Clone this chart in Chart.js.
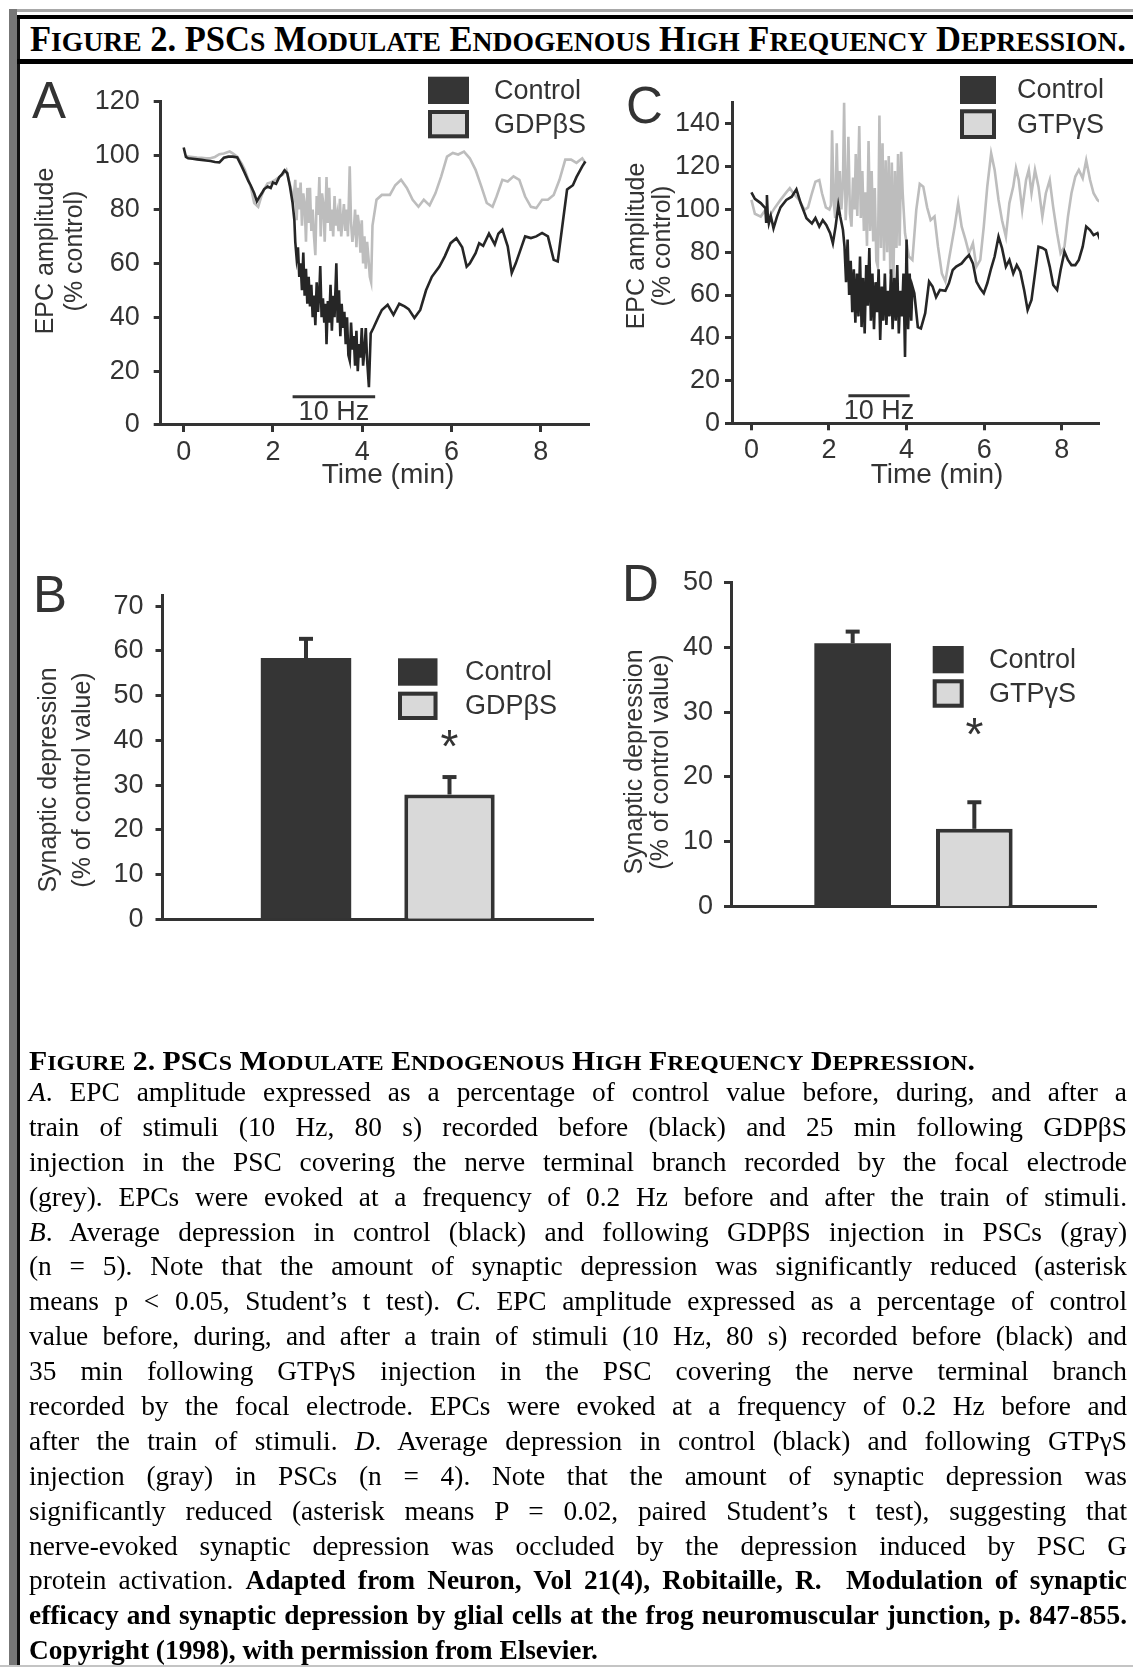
<!DOCTYPE html>
<html>
<head>
<meta charset="utf-8">
<script src="https://cdn.jsdelivr.net/npm/chart.js@4.4.1/dist/chart.umd.min.js"></script>
<style>
html,body{margin:0;padding:0;background:#fff;}
body{width:1133px;height:1667px;position:relative;overflow:hidden;}
canvas.full{position:absolute;left:0;top:0;}
.bar{position:absolute;}
.ttl{position:absolute;white-space:nowrap;display:inline-block;transform-origin:0 0;
  font-family:'Liberation Serif','Times New Roman',serif;font-weight:bold;color:#000;}
.cap{position:absolute;left:29px;top:1075px;width:1098px;
  font-family:'Liberation Serif','Times New Roman',serif;font-size:26px;line-height:34.9px;color:#000;}
.cl{height:34.9px;white-space:nowrap;}
.cl span{white-space:nowrap;}
</style>
</head>
<body>
<!-- page frame -->
<div class="bar" style="left:9px;top:9px;width:1124px;height:3px;background:#a8a8a8;"></div>
<div class="bar" style="left:9px;top:9px;width:8px;height:1658px;background:#777;"></div>
<div class="bar" style="left:17px;top:15px;width:2.5px;height:1652px;background:#111;"></div>
<div class="bar" style="left:17px;top:15px;width:1116px;height:3.5px;background:#000;"></div>
<div class="bar" style="left:17px;top:59px;width:1116px;height:5px;background:#000;"></div>
<div class="bar" style="left:0;top:1665px;width:1133px;height:2px;background:#c4c4c4;"></div>

<div id="topTitle" class="ttl" style="left:30px;top:20px;font-size:35px;line-height:40px;">Figure 2. PSCs Modulate Endogenous High Frequency Depression.</div>

<canvas id="cA" class="full" width="1133" height="1667"></canvas>
<canvas id="cC" class="full" width="1133" height="1667"></canvas>
<canvas id="cB" class="full" width="1133" height="1667"></canvas>
<canvas id="cD" class="full" width="1133" height="1667"></canvas>

<div id="capTitle" class="ttl" style="left:29px;top:1046px;font-size:27px;line-height:30px;">Figure 2. PSCs Modulate Endogenous High Frequency Depression.</div>
<div class="cap" id="cap">
<div class="cl j"><span><i>A</i>. EPC amplitude expressed as a percentage of control value before, during, and after a</span></div>
<div class="cl j"><span>train of stimuli (10 Hz, 80 s) recorded before (black) and 25 min following GDPβS</span></div>
<div class="cl j"><span>injection in the PSC covering the nerve terminal branch recorded by the focal electrode</span></div>
<div class="cl j"><span>(grey). EPCs were evoked at a frequency of 0.2 Hz before and after the train of stimuli.</span></div>
<div class="cl j"><span><i>B</i>. Average depression in control (black) and following GDPβS injection in PSCs (gray)</span></div>
<div class="cl j"><span>(n = 5). Note that the amount of synaptic depression was significantly reduced (asterisk</span></div>
<div class="cl j"><span>means p &lt; 0.05, Student’s t test). <i>C</i>. EPC amplitude expressed as a percentage of control</span></div>
<div class="cl j"><span>value before, during, and after a train of stimuli (10 Hz, 80 s) recorded before (black) and</span></div>
<div class="cl j"><span>35 min following GTPγS injection in the PSC covering the nerve terminal branch</span></div>
<div class="cl j"><span>recorded by the focal electrode. EPCs were evoked at a frequency of 0.2 Hz before and</span></div>
<div class="cl j"><span>after the train of stimuli. <i>D</i>. Average depression in control (black) and following GTPγS</span></div>
<div class="cl j"><span>injection (gray) in PSCs (n = 4). Note that the amount of synaptic depression was</span></div>
<div class="cl j"><span>significantly reduced (asterisk means P = 0.02, paired Student’s t test), suggesting that</span></div>
<div class="cl j"><span>nerve-evoked synaptic depression was occluded by the depression induced by PSC G</span></div>
<div class="cl j"><span>protein activation. <b>Adapted from Neuron, Vol 21(4), Robitaille, R.&nbsp; Modulation of synaptic</b></span></div>
<div class="cl j"><span><b>efficacy and synaptic depression by glial cells at the frog neuromuscular junction, p. 847-855.</b></span></div>
<div class="cl"><span><b>Copyright (1998), with permission from Elsevier.</b></span></div>
</div>

<script>
// ---------------- DATA ----------------
const timeTicks = [0, 2, 4, 6, 8];
const epcTicksA = [0, 20, 40, 60, 80, 100, 120];
const epcTicksC = [0, 20, 40, 60, 80, 100, 120, 140];
const depTicksB = [0, 10, 20, 30, 40, 50, 60, 70];
const depTicksD = [0, 10, 20, 30, 40, 50];

const seriesA = ['Control', 'GDPβS'];
const seriesC = ['Control', 'GTPγS'];
const stimLabel = '10 Hz';
const stimA = [2.44, 4.29];
const stimC = [2.5, 4.08];

// Panel A, Control (black)
const aCtrlTime = [0,0.05,0.1,0.2,0.3,0.4,0.5,0.6,0.7,0.8,0.9,1.0,1.1,1.2,1.3,1.37,1.45,1.5,1.58,1.64,1.69,1.75,1.8,1.88,1.95,2.0,2.07,2.14,2.2,2.26,2.32,2.38,2.44,
 2.48,2.5,2.53,2.56,2.59,2.62,2.65,2.68,2.71,2.74,2.77,2.8,2.83,2.86,2.89,2.92,2.95,2.98,3.01,3.04,3.06,3.09,3.12,3.15,3.18,3.2,3.23,3.26,3.29,3.32,3.35,3.38,3.42,3.45,3.48,3.51,3.54,3.57,3.6,3.63,3.66,3.69,3.72,3.75,3.78,3.81,3.84,3.87,3.9,3.93,3.96,3.99,4.02,4.05,4.08,4.11,4.15,4.19,
 4.25,4.36,4.44,4.57,4.7,4.83,4.95,5.04,5.17,5.3,5.43,5.56,5.73,5.85,5.98,6.11,6.24,6.34,6.41,6.54,6.62,6.71,6.84,6.97,7.05,7.14,7.26,7.35,7.44,7.52,7.65,7.78,7.9,8.03,8.16,8.29,8.38,8.5,8.59,8.72,8.8,8.93,9.0];
const aCtrlEpc = [103,99.5,99,98.8,98.6,98.4,98.2,98,97.6,97.5,99.2,99.6,99.6,99.3,96,93.5,90.5,89,86,83,84.5,86,87.5,88.5,88,90,89.5,92,93,94.5,93.5,88.6,82.4,
 76,68,62,66,55,60,50,64,48,58,45,55,44,52,40,48,37,53,42,50,59,40,47,38,45,30,46,38,52,35,48,40,60,38,50,33,45,36,42,30,40,26,24,38,28,33,22,35,20,30,25,36,22,28,36,24,14,34,
 36,40,42.7,44.6,40.9,45,44,43,39.7,42.7,50,55,58.8,62.6,67.5,69.3,66,58.8,60,63.8,67.5,66.5,71,67,71,72.5,66.3,56.4,60,63.8,70,69.4,70,71.3,70,61.3,60.7,76,87.4,89,92,96,97.8];

// Panel A, GDPbetaS (grey)
const aGdpTime = [0.05,0.1,0.2,0.3,0.4,0.5,0.6,0.7,0.8,0.9,1.03,1.1,1.2,1.3,1.37,1.45,1.5,1.58,1.67,1.75,1.82,1.88,1.95,2.05,2.14,2.22,2.3,2.39,2.46,
 2.5,2.53,2.56,2.59,2.62,2.65,2.68,2.71,2.74,2.77,2.8,2.83,2.86,2.89,2.92,2.95,2.98,3.01,3.04,3.07,3.1,3.13,3.16,3.2,3.23,3.26,3.29,3.32,3.35,3.38,3.41,3.44,3.47,3.5,3.53,3.56,3.59,3.62,3.65,3.68,3.72,3.75,3.78,3.81,3.84,3.87,3.9,3.93,3.96,3.99,4.02,4.05,4.08,4.11,4.14,4.17,4.2,
 4.23,4.32,4.44,4.62,4.74,4.87,5.0,5.13,5.26,5.38,5.51,5.64,5.77,5.9,6.03,6.15,6.28,6.41,6.54,6.67,6.79,6.92,7.01,7.14,7.26,7.39,7.52,7.65,7.78,7.9,8.03,8.16,8.29,8.42,8.55,8.68,8.8,8.93,9.0];
const aGdpEpc = [100,99.6,99.5,99.3,99.2,99,99,99.5,100.5,100.8,101.5,100.8,99.6,97,94.7,91,88.5,82.4,81,85.4,88,89.7,90,91,92,93,94.7,88.6,83.6,
 91,76,88,80,90,74,86,82,68,88,75,88,72,80,70,63,85,78,92,70,86,82,68,92,75,88,72,80,70,85,74,78,72,84,70,76,82,72,80,70,96,75,68,72,80,66,78,74,64,76,60,70,58,68,62,55,53,
 74,83.6,85.4,85.4,89,91,88,83.6,81,83.6,81.5,86,92.3,99.6,101,100.4,101.5,99,94.7,88.5,82.4,81,84.8,91,90.4,92.3,91,84.8,81,80.5,83.6,83.6,85.4,91,98.5,98.5,97.3,99,97.3];

// Panel C, Control (black)
const cCtrlTime = [0,0.09,0.24,0.36,0.38,0.4,0.42,0.45,0.5,0.57,0.66,0.75,0.9,1.04,1.16,1.27,1.42,1.56,1.65,1.75,1.84,1.93,2.03,2.1,2.17,2.24,2.29,2.36,2.4,
 2.44,2.48,2.52,2.56,2.6,2.64,2.68,2.72,2.76,2.8,2.84,2.88,2.92,2.96,3.0,3.04,3.08,3.12,3.16,3.2,3.24,3.28,3.32,3.36,3.4,3.44,3.48,3.52,3.56,3.6,3.64,3.68,3.72,3.76,3.8,3.84,3.88,3.92,3.96,4.0,4.04,4.08,4.12,4.15,
 4.2,4.29,4.37,4.48,4.58,4.67,4.76,4.86,5.0,5.09,5.19,5.28,5.42,5.52,5.61,5.71,5.8,5.9,5.99,6.08,6.18,6.27,6.37,6.46,6.56,6.65,6.75,6.84,6.93,7.03,7.12,7.22,7.31,7.4,7.5,7.59,7.69,7.78,7.88,7.97,8.07,8.16,8.25,8.35,8.44,8.54,8.63,8.73,8.82,8.92,8.99];
const cCtrlEpc = [108,105,103,100.6,94.3,106.8,98,93.5,97,91.2,96.7,101,104.5,106,109.4,103,95.9,93.5,96,92,95,92.8,88.9,84.2,92,102,96.7,90.4,82.6,
 66,86,60,76,52,72,47,70,50,78,45,68,42,74,55,82,48,70,44,66,52,72,39,64,48,70,46,62,50,72,44,68,48,74,42,62,50,70,31,86,44,70,48,64,
 60.8,45,44.4,51.5,66.3,64,59,62.4,62,65.5,71.7,73.3,74.8,77,78.7,74.8,66.3,63,60.8,65.5,72.5,78,87.3,81.9,73.3,76.4,70,74,71,62.4,53,57.7,70,82.6,82,81,73.3,64.7,62.4,71.7,80.3,76.4,74,74,76.4,82.6,92,90.4,88,89,85.8];

// Panel C, GTPgammaS (grey)
const cGtpTime = [0,0.09,0.24,0.33,0.47,0.61,0.75,0.9,0.99,1.08,1.23,1.37,1.46,1.56,1.65,1.75,1.82,1.92,2.01,
 2.05,2.08,2.12,2.16,2.2,2.24,2.28,2.32,2.36,2.39,2.43,2.47,2.5,2.54,2.58,2.62,2.66,2.69,2.73,2.78,2.82,2.86,2.9,2.94,2.98,3.02,3.06,3.1,3.14,3.18,3.22,3.26,3.3,3.34,3.38,3.42,3.46,3.5,3.54,3.58,3.62,3.66,3.7,3.74,3.78,3.82,3.86,
 3.9,3.96,4.06,4.15,4.25,4.34,4.43,4.53,4.62,4.72,4.81,4.91,5.0,5.09,5.24,5.33,5.42,5.52,5.61,5.71,5.8,5.9,5.99,6.08,6.18,6.27,6.37,6.46,6.56,6.65,6.75,6.82,6.89,6.98,7.08,7.15,7.22,7.31,7.4,7.5,7.59,7.69,7.78,7.88,7.97,8.07,8.16,8.25,8.35,8.44,8.54,8.63,8.73,8.82,8.92,8.97];
const cGtpEpc = [104.5,98,96.7,99,97,101,104.5,108,110,107.6,104.5,99.8,101,107.6,113,113.8,107.6,101,100,
 102,137,104,96,131,100,118,100,112,150,95,110,134,98,92,115,100,126,97,139,96,118,90,108,83,132,90,118,85,110,76,73,144,82,131,76,123,80,125,70,122,65,118,82,126,83,127,
 107.6,88.9,78,76.4,99.8,112,110.7,101,95,96.7,82.6,70,66.3,76.4,92,103,92,85.8,79.5,84.2,73.3,76.4,92,110.7,126.3,118.5,104.5,95,87.3,103,110.7,119.3,113.8,99.8,113.8,118.5,107.6,118.5,110.7,96.7,107.6,113.8,101,88.9,79.5,82.6,96.7,107.6,115.4,118.5,114.6,123,113.8,107.6,104.5,103.7];

// Panel B
const barCatsB = ['Control', 'GDPβS'];
const barMeansB = [58.4, 27.9];
const barErrB = [4.3, 3.9];
const starB = 40;
// Panel D
const barCatsD = ['Control', 'GTPγS'];
const barMeansD = [40.6, 12.0];
const barErrD = [1.8, 4.1];
const starD = 27.5;

// ---------------- STYLE / LAYOUT ----------------
const PAGE_W = 1133, PAGE_H = 1667;
const INK = '#333333';
const SANS = "'Liberation Sans', Arial, Helvetica, sans-serif";
const BLACK_TRACE = '#262626';
const GRAY_TRACE = '#bdbdbd';
const BAR_DARK = '#353535';
const BAR_LIGHT = '#d9d9d9';
const TICK_FONT = { family: SANS, size: 27 };

const panels = {
  A: { area: {left:160.7, top:101.7, right:589.4, bottom:425}, xRange:[-0.515, 9.09], yMax:120, tickPad:14,
       letter:{text:'A', x:32, y:118},
       yTitle:{lines:['EPC amplitude','(% control)'], xs:[46,75.5], cy:251},
       xTitle:{text:'Time (min)', cx:388, cy:475},
       legend:{x:428, w:41, rows:[[76.7,104],[110,138.3]], textX:494},
       stimY:10.5 },
  C: { area: {left:732, top:102.6, right:1099, bottom:423.3}, xRange:[-0.5, 8.96], yMax:150, tickPad:5,
       letter:{text:'C', x:626, y:122.5},
       yTitle:{lines:['EPC amplitude','(% control)'], xs:[637,663.5], cy:246},
       xTitle:{text:'Time (min)', cx:937, cy:475},
       legend:{x:960, w:36, rows:[[76,104],[109.3,139]], textX:1017},
       stimY:12.9 },
  B: { area: {left:162.5, top:595, right:593, bottom:919.3}, yMax:72.5, tickPad:12,
       letter:{text:'B', x:33, y:611.5},
       yTitle:{lines:['Synaptic depression','(% of control value)'], xs:[49,83], cy:780},
       legend:{x:398, w:39.5, rows:[[658.3,685.7],[691.7,720]], textX:465} },
  D: { area: {left:731, top:582.3, right:1096, bottom:906.7}, yMax:50, tickPad:11,
       letter:{text:'D', x:622, y:600.5},
       yTitle:{lines:['Synaptic depression','(% of control value)'], xs:[635,661], cy:762},
       legend:{x:932.7, w:31, rows:[[646,673.3],[679.3,707.7]], textX:989} }
};

const Y_W = 110;
function padFor(area, xH) {
  return { left: area.left - Y_W, top: area.top, right: PAGE_W - area.right, bottom: PAGE_H - area.bottom - xH };
}
function pts(t, y) { const n = Math.min(t.length, y.length); const o = []; for (let i = 0; i < n; i++) o.push({x: t[i], y: y[i]}); return o; }
function fixTicks(list) { return s => { s.ticks = list.map(v => ({ value: v })); }; }

function drawCommon(ctx, p, names) {
  ctx.save();
  ctx.fillStyle = INK;
  ctx.font = `51px ${SANS}`; ctx.textAlign = 'left'; ctx.textBaseline = 'alphabetic';
  ctx.fillText(p.letter.text, p.letter.x, p.letter.y);
  ctx.font = `25px ${SANS}`;
  p.yTitle.lines.forEach((ln, i) => {
    ctx.save(); ctx.translate(p.yTitle.xs[i], p.yTitle.cy); ctx.rotate(-Math.PI / 2);
    ctx.textAlign = 'center'; ctx.textBaseline = 'middle'; ctx.fillText(ln, 0, 0); ctx.restore();
  });
  if (p.xTitle) {
    ctx.font = `28px ${SANS}`; ctx.textAlign = 'center'; ctx.textBaseline = 'middle';
    ctx.fillText(p.xTitle.text, p.xTitle.cx, p.xTitle.cy);
  }
  const lg = p.legend;
  names.forEach((nm, i) => {
    const [t, b] = lg.rows[i];
    if (i === 0) { ctx.fillStyle = BAR_DARK; ctx.fillRect(lg.x, t, lg.w, b - t); }
    else {
      ctx.fillStyle = BAR_LIGHT; ctx.fillRect(lg.x, t, lg.w, b - t);
      ctx.strokeStyle = INK; ctx.lineWidth = 4; ctx.strokeRect(lg.x + 2, t + 2, lg.w - 4, b - t - 4);
    }
    ctx.fillStyle = INK; ctx.font = `27px ${SANS}`; ctx.textAlign = 'left'; ctx.textBaseline = 'middle';
    ctx.fillText(nm, lg.textX, (t + b) / 2 + 1);
  });
  ctx.restore();
}

function yAxis(p, yTicks) {
  return { type: 'linear', min: 0, max: p.yMax,
    afterBuildTicks: fixTicks(yTicks), afterFit: s => { s.width = Y_W; },
    grid: { display: true, drawOnChartArea: false, drawTicks: true, tickLength: 7, tickWidth: 3, tickColor: INK },
    border: { display: true, color: INK, width: 3 },
    ticks: { color: INK, font: TICK_FONT, padding: p.tickPad, autoSkip: false } };
}

function lineChart(id, p, names, blackT, blackY, grayT, grayY, yTicks, stim) {
  const plugin = {
    id: 'decor' + id,
    afterDraw(chart) {
      const ctx = chart.ctx, xs = chart.scales.x, ys = chart.scales.y;
      drawCommon(ctx, p, names);
      ctx.save();
      const y = ys.getPixelForValue(p.stimY);
      const x0 = xs.getPixelForValue(stim[0]), x1 = xs.getPixelForValue(stim[1]);
      ctx.strokeStyle = INK; ctx.lineWidth = 3;
      ctx.beginPath(); ctx.moveTo(x0, y); ctx.lineTo(x1, y); ctx.stroke();
      ctx.fillStyle = INK; ctx.font = `27px ${SANS}`; ctx.textAlign = 'center'; ctx.textBaseline = 'middle';
      ctx.fillText(stimLabel, (x0 + x1) / 2, y + 16);
      ctx.restore();
    }
  };
  return new Chart(document.getElementById(id), {
    type: 'line',
    data: { datasets: [
      { label: names[0], data: pts(blackT, blackY), borderColor: BLACK_TRACE, borderWidth: 2.6, pointRadius: 0, tension: 0, order: 0 },
      { label: names[1], data: pts(grayT, grayY), borderColor: GRAY_TRACE, borderWidth: 2.6, pointRadius: 0, tension: 0, order: 1 }
    ]},
    options: {
      responsive: false, animation: false, events: [],
      layout: { padding: padFor(p.area, 60) },
      plugins: { legend: { display: false }, tooltip: { enabled: false } },
      scales: {
        x: { type: 'linear', min: p.xRange[0], max: p.xRange[1],
             afterBuildTicks: fixTicks(timeTicks), afterFit: s => { s.height = 60; },
             grid: { display: true, drawOnChartArea: false, drawTicks: true, tickLength: 7, tickWidth: 3, tickColor: INK },
             border: { display: true, color: INK, width: 3 },
             ticks: { color: INK, font: TICK_FONT, padding: 4, maxRotation: 0, autoSkip: false } },
        y: yAxis(p, yTicks)
      }
    },
    plugins: [plugin]
  });
}

function barChart(id, p, cats, means, errs, yTicks, star) {
  const plugin = {
    id: 'decor' + id,
    afterDatasetsDraw(chart) {
      const ctx = chart.ctx, xs = chart.scales.x, ys = chart.scales.y;
      ctx.save();
      ctx.strokeStyle = INK; ctx.lineWidth = 4;
      means.forEach((m, i) => {
        const x = xs.getPixelForValue(i + 1);
        const yb = ys.getPixelForValue(m), yt = ys.getPixelForValue(m + errs[i]);
        ctx.beginPath(); ctx.moveTo(x, yb); ctx.lineTo(x, yt); ctx.stroke();
        ctx.beginPath(); ctx.moveTo(x - 7, yt); ctx.lineTo(x + 7, yt); ctx.stroke();
      });
      ctx.fillStyle = INK; ctx.font = `46px ${SANS}`; ctx.textAlign = 'center'; ctx.textBaseline = 'middle';
      ctx.fillText('*', xs.getPixelForValue(2), ys.getPixelForValue(star) + 9);
      ctx.restore();
    },
    afterDraw(chart) { drawCommon(chart.ctx, p, cats); }
  };
  return new Chart(document.getElementById(id), {
    type: 'bar',
    data: { datasets: [{
      data: means.map((m, i) => ({ x: i + 1, y: m })),
      backgroundColor: [BAR_DARK, BAR_LIGHT], borderColor: [BAR_DARK, INK], borderWidth: [0, 4],
      borderSkipped: 'start', barPercentage: 0.63, categoryPercentage: 1
    }]},
    options: {
      responsive: false, animation: false, events: [],
      layout: { padding: padFor(p.area, 10) },
      plugins: { legend: { display: false }, tooltip: { enabled: false } },
      scales: {
        x: { type: 'linear', min: 0, max: cats.length + 1, offset: false,
             afterBuildTicks: s => { s.ticks = cats.map((c, i) => ({ value: i + 1 })); },
             afterFit: s => { s.height = 10; },
             grid: { display: false }, border: { display: true, color: INK, width: 3 },
             ticks: { display: false } },
        y: yAxis(p, yTicks)
      }
    },
    plugins: [plugin]
  });
}

lineChart('cA', panels.A, seriesA, aCtrlTime, aCtrlEpc, aGdpTime, aGdpEpc, epcTicksA, stimA);
lineChart('cC', panels.C, seriesC, cCtrlTime, cCtrlEpc, cGtpTime, cGtpEpc, epcTicksC, stimC);
barChart('cB', panels.B, barCatsB, barMeansB, barErrB, depTicksB, starB);
barChart('cD', panels.D, barCatsD, barMeansD, barErrD, depTicksD, starD);

// ---------------- TEXT FITTING ----------------
function smallCaps(el, ratio) {
  const txt = el.textContent;
  el.innerHTML = txt.replace(/[a-z]+/g, m => `<span style="font-size:${ratio}em">${m.toUpperCase()}</span>`);
}
function fitX(el, W) {
  el.style.transform = 'none';
  const w = el.getBoundingClientRect().width;
  el.style.transform = `scaleX(${W / w})`;
}
const topT = document.getElementById('topTitle');
const capT = document.getElementById('capTitle');
smallCaps(topT, 0.8); smallCaps(capT, 0.8);
fitX(topT, 1096);
fitX(capT, 946);

const CAP_W = 1098;
const spans = Array.from(document.querySelectorAll('.cl.j > span'));
const cap = document.getElementById('cap');
let maxW = 0;
spans.forEach(sp => { maxW = Math.max(maxW, sp.getBoundingClientRect().width); });
const fs = Math.min(28.5, 26 * CAP_W / maxW * 0.985);
cap.style.fontSize = fs + 'px';
spans.forEach(sp => {
  sp.style.wordSpacing = '0px';
  const w = sp.getBoundingClientRect().width;
  const n = (sp.textContent.match(/[ \u00a0]/g) || []).length;
  if (n) sp.style.wordSpacing = ((CAP_W - w) / n) + 'px';
});
</script>
</body>
</html>
